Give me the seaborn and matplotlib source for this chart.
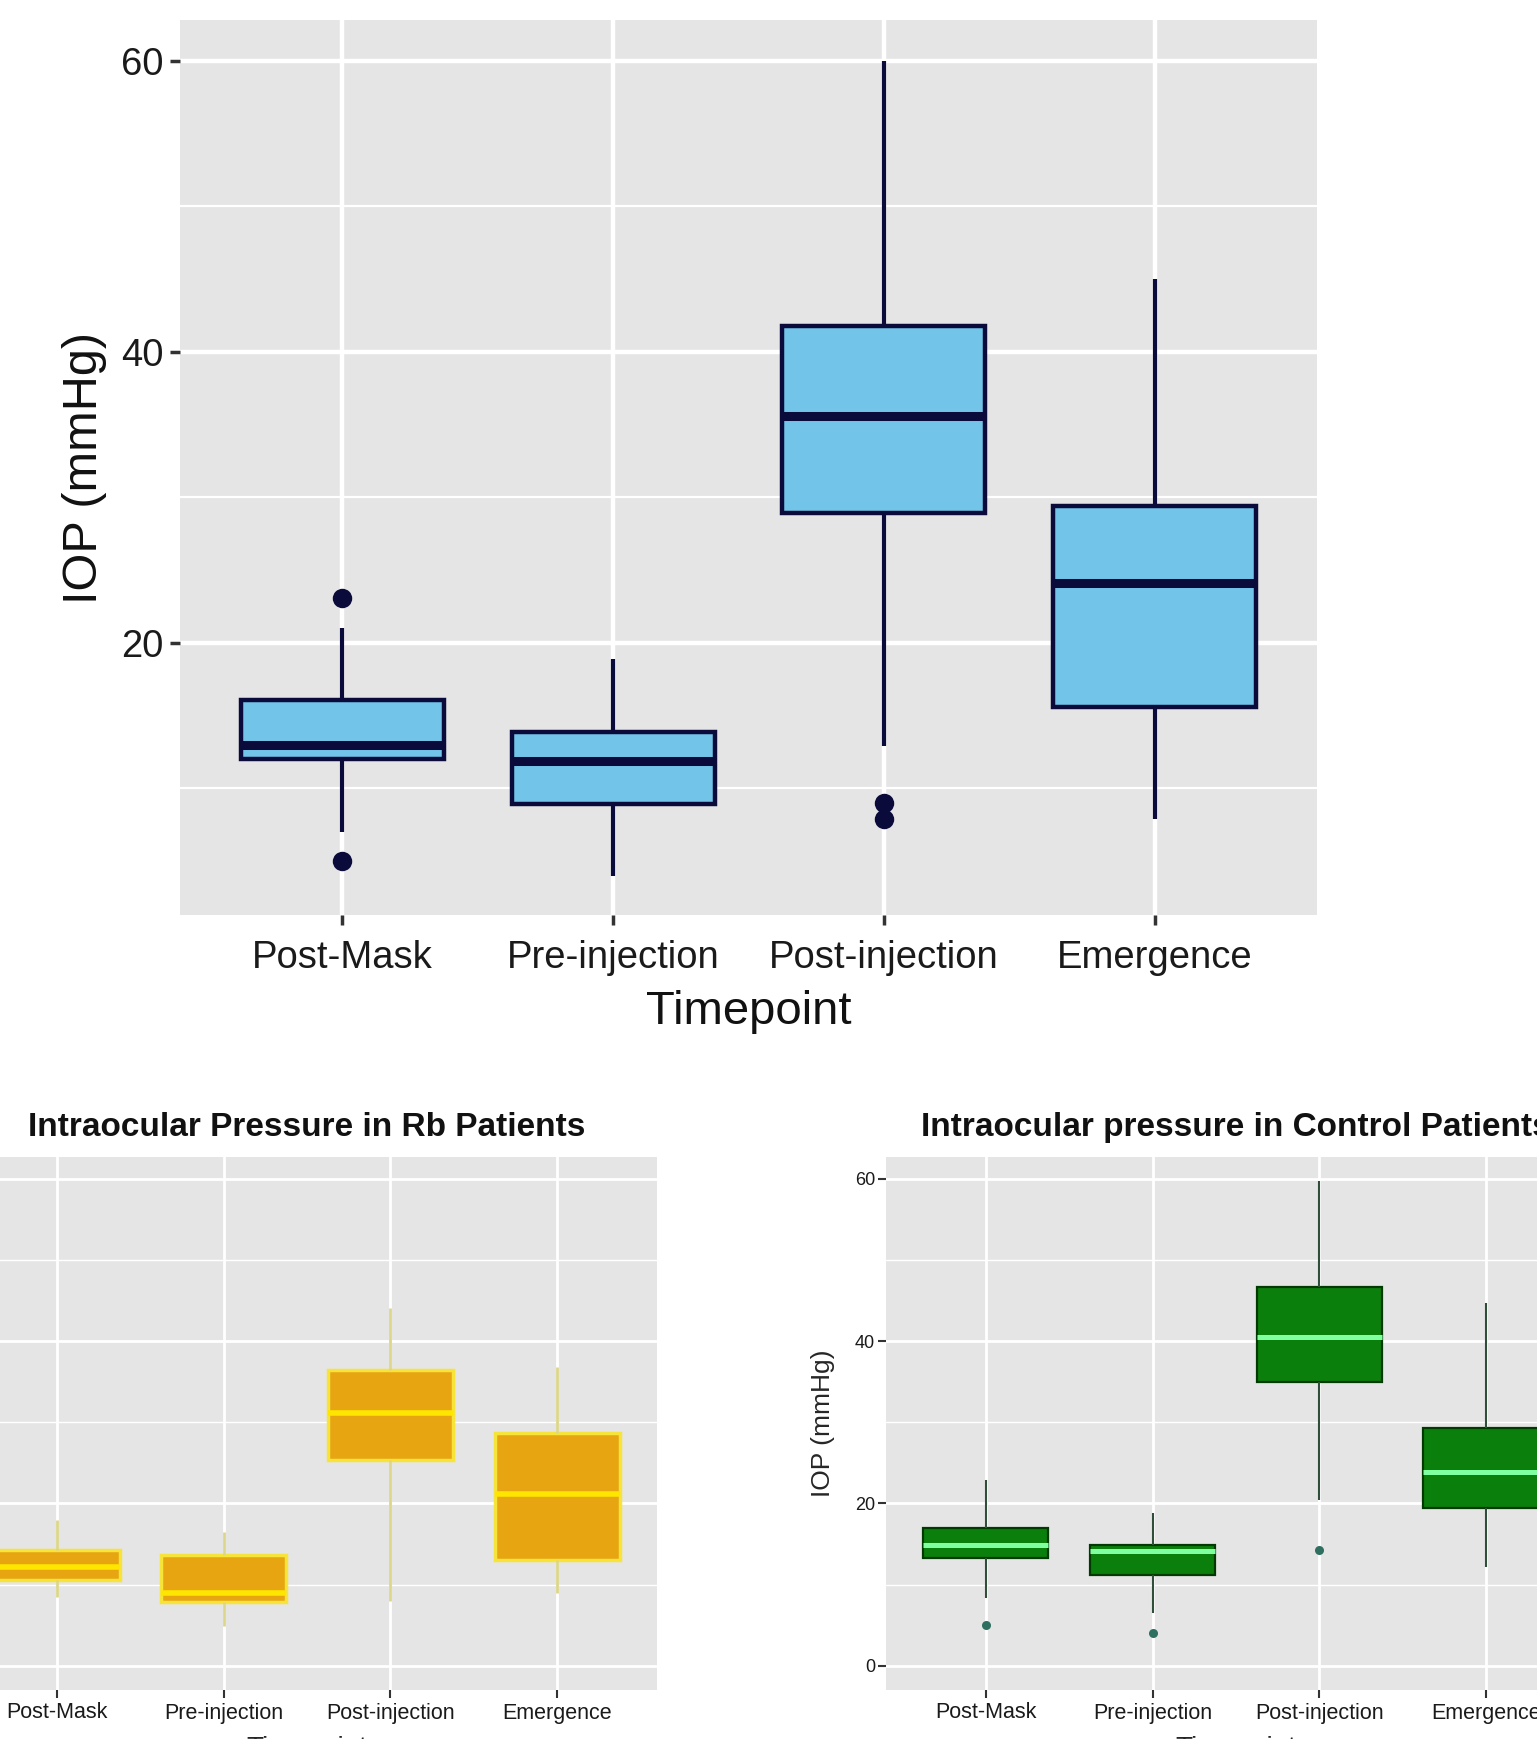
import numpy as np
import pandas as pd
import matplotlib
matplotlib.use("Agg")
import matplotlib.pyplot as plt
import seaborn as sns
from matplotlib.ticker import FixedLocator

sns.set_style("white")
plt.rcParams["font.family"] = ["Liberation Sans", "DejaVu Sans"]

timepoints = ["Post-Mask", "Pre-injection", "Post-injection", "Emergence"]

# five-number summaries: whisker low, q1, median, q3, whisker high
all_stats = {
    "Post-Mask": [7.0, 12.0, 13.0, 16.1, 21.0],
    "Pre-injection": [4.0, 8.9, 11.9, 13.9, 18.9],
    "Post-injection": [12.9, 28.9, 35.6, 41.8, 60.0],
    "Emergence": [7.9, 15.6, 24.1, 29.4, 45.0],
}
all_outliers = {"Post-Mask": [23.1, 5.0], "Post-injection": [9.0, 7.9]}

rb_stats = {
    "Post-Mask": [8.5, 10.6, 12.1, 14.2, 18.0],
    "Pre-injection": [4.9, 7.8, 9.0, 13.7, 16.5],
    "Post-injection": [8.0, 25.4, 31.2, 36.5, 44.1],
    "Emergence": [9.0, 13.0, 21.1, 28.7, 36.8],
}
rb_outliers = {}

ctrl_stats = {
    "Post-Mask": [8.4, 13.3, 14.9, 17.0, 22.9],
    "Pre-injection": [6.5, 11.2, 14.1, 14.9, 18.8],
    "Post-injection": [20.4, 35.0, 40.5, 46.7, 59.8],
    "Emergence": [12.1, 19.4, 23.9, 29.3, 44.7],
}
ctrl_outliers = {"Post-Mask": [5.0], "Pre-injection": [4.0], "Post-injection": [14.2]}


def to_long(d):
    rows = [(k, v) for k, vals in d.items() for v in vals]
    return pd.DataFrame(rows, columns=["Timepoint", "IOP"])


def draw_panel(ax, stats, outliers, fill, edge, med, whisk, lw, mlw, wlw, ocol, osize):
    sns.boxplot(data=to_long(stats), x="Timepoint", y="IOP", order=timepoints,
                whis=(0, 100), width=0.75, showcaps=False, fliersize=0,
                color=fill, linecolor=edge, linewidth=lw, ax=ax,
                boxprops=dict(facecolor=fill, edgecolor=edge, linewidth=lw),
                medianprops=dict(color=med, linewidth=mlw),
                whiskerprops=dict(color=whisk, linewidth=wlw))
    if outliers:
        sns.stripplot(data=to_long(outliers), x="Timepoint", y="IOP", order=timepoints,
                      jitter=False, color=ocol, size=osize, ax=ax, zorder=5)


def gg_axes(ax, major, minor, ylim, glw, tick_kw):
    # ggplot2-like grey panel with white grid, set after seaborn has drawn
    ax.set_facecolor("#E5E5E5")
    for s in ax.spines.values():
        s.set_visible(False)
    ax.set_ylim(*ylim)
    ax.set_xlim(-0.6, 3.6)
    ax.yaxis.set_major_locator(FixedLocator(major))
    ax.yaxis.set_minor_locator(FixedLocator(minor))
    ax.grid(which="major", axis="both", color="white", lw=glw)
    ax.grid(which="minor", axis="y", color="white", lw=glw * 0.5)
    ax.set_axisbelow(True)
    ax.tick_params(which="minor", length=0, left=False, bottom=False)
    ax.tick_params(which="major", color="#333333", bottom=True, left=True, **tick_kw)


W, H = 1537, 1739
fig = plt.figure(figsize=(W / 100, H / 100), dpi=100)

# top panel: all patients
ax1 = fig.add_axes([180 / W, 1 - 915 / H, 1137 / W, 895 / H])
draw_panel(ax1, all_stats, all_outliers, "#72C4E8", "#0B0B3B", "#0B0B3B", "#0B0B3B",
           3.2, 6.5, 3.0, "#0B0B3B", 14)
gg_axes(ax1, [20, 40, 60], [10, 30, 50], (1.3, 62.8), 3.2,
        dict(length=7, width=2.5, pad=4, labelsize=27.5, labelcolor="#1a1a1a"))
ax1.tick_params(axis="x", pad=11)
ax1.tick_params(axis="y", pad=5)
ax1.set_xlabel("Timepoint", fontsize=34, color="#111111")
ax1.set_ylabel("IOP (mmHg)", fontsize=35, color="#111111")
ax1.xaxis.set_label_coords(0.5, -0.084)
ax1.yaxis.set_label_coords(-0.064, 0.5)

# bottom left: Rb patients
ax2 = fig.add_axes([-43 / W, 1 - 1690 / H, 700 / W, 533 / H])
draw_panel(ax2, rb_stats, rb_outliers, "#E8A512", "#F7E43A", "#FFE600", "#DCD68A",
           2.5, 4.0, 2.0, "#DCD68A", 6)
gg_axes(ax2, [0, 20, 40, 60], [10, 30, 50], (-3.0, 62.7), 2.0,
        dict(length=6, width=1.5, pad=3, labelsize=15.5, labelcolor="#1a1a1a"))
ax2.set_title("Intraocular Pressure in Rb Patients", fontsize=24, fontweight="bold",
              pad=15, color="#111111")
ax2.set_xlabel("Timepoint", fontsize=20)
ax2.set_ylabel("")
ax2.xaxis.set_label_coords(0.5, -0.086)

# bottom right: control patients
ax3 = fig.add_axes([886 / W, 1 - 1690 / H, 700 / W, 533 / H])
draw_panel(ax3, ctrl_stats, ctrl_outliers, "#0B7F0B", "#003A00", "#80FFA0", "#2F4F3A",
           1.6, 3.6, 1.5, "#2F6F5F", 6.5)
gg_axes(ax3, [0, 20, 40, 60], [10, 30, 50], (-3.0, 62.7), 2.0,
        dict(length=6, width=1.5, pad=3, labelsize=15.5, labelcolor="#1a1a1a"))
ax3.tick_params(axis="y", labelsize=13, pad=2)
ax3.set_title("Intraocular pressure in Control Patients", fontsize=24, fontweight="bold",
              pad=15, color="#111111")
ax3.set_xlabel("Timepoint", fontsize=20)
ax3.set_ylabel("IOP (mmHg)", fontsize=19)
ax3.xaxis.set_label_coords(0.5, -0.086)
ax3.yaxis.set_label_coords(-0.073, 0.5)

fig.savefig("out.png", dpi=100)
